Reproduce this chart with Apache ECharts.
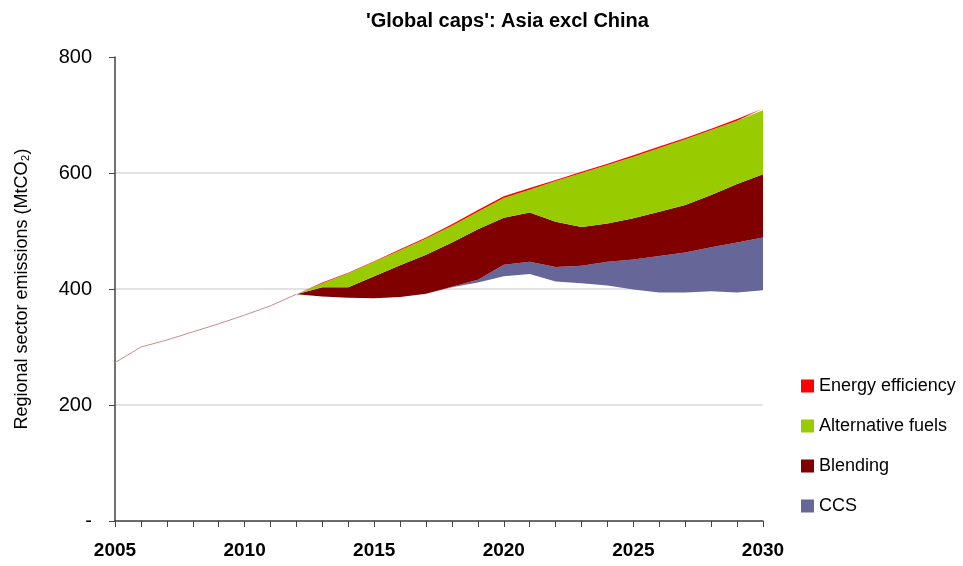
<!DOCTYPE html>
<html>
<head>
<meta charset="utf-8">
<script src="https://cdn.jsdelivr.net/npm/echarts@6/dist/echarts.min.js"></script>
<style>
html,body{margin:0;padding:0;background:#fff;}
#c{width:963px;height:566px;}
</style>
</head>
<body>
<div id="c"></div>
<script>
const years = ['2005','2006','2007','2008','2009','2010','2011','2012','2013','2014','2015','2016','2017','2018','2019','2020','2021','2022','2023','2024','2025','2026','2027','2028','2029','2030'];
// remaining emissions (lower envelope, not filled)
const remaining = [273,300,312,326,340,355,371,391,387,385,384,386,392,403,411,422,426,413,410,406,399,394,394,396,394,398];
const ccs       = [0,0,0,0,0,0,0,0,0,0,0,0,0,1,5,20,21,25,30,41,52,63,69,76,86,91];
const blending  = [0,0,0,0,0,0,0,0,16,18,38,55,67,76,87,81,85,78,67,66,71,76,82,90,101,109];
const altFuels  = [0,0,0,0,0,0,0,0,7,24,25,26,28,29,30,34,39,70,93,101,106,110,113,112,109,110];
const energyEff = [0,0,0,0,0,0,0,0,1,1,1,1.5,2,2.5,3,3,3,2,2,2,2.5,2.5,2.5,2.5,3,3];
const lastHistoricYear = '2012';
const yTicks = [0,200,400,600,800];

const histIdx = years.indexOf(lastHistoricYear);
const history = remaining.map((v,i)=> i<=histIdx ? v : null);

const font = 'Liberation Sans, Arial, sans-serif';
function area(name, data, color){
  return {name, type:'line', stack:'total', data, symbol:'none', smooth:false,
    lineStyle:{width:0}, areaStyle:{color, opacity:1}, itemStyle:{color}, z:2};
}
const chart = echarts.init(document.getElementById('c'));
chart.setOption({
  animation:false,
  title:{text:"'Global caps': Asia excl China", left:361, top:6,
    textStyle:{fontFamily:font, fontSize:20, fontWeight:'bold', color:'#000'}},
  grid:{left:115, right:200, top:57, bottom:45, containLabel:false},
  legend:{orient:'vertical', left:796, top:372, itemWidth:13, itemHeight:13, itemGap:22,
    data:['Energy efficiency','Alternative fuels','Blending','CCS'],
    icon:'rect',
    textStyle:{fontFamily:font, fontSize:18, color:'#000'}},
  xAxis:{type:'category', data:years, boundaryGap:false,
    axisLine:{lineStyle:{color:'#444', width:1.5}},
    axisTick:{show:true, interval:0, length:6, lineStyle:{color:'#444'}},
    axisLabel:{interval:4, margin:20, fontFamily:font, fontSize:19, fontWeight:'bold', color:'#000'},
    splitLine:{show:false}},
  yAxis:{type:'value', min:yTicks[0], max:yTicks[yTicks.length-1], interval:200,
    name:'Regional sector emissions (MtCO\u2082)', nameLocation:'middle', nameGap:84,
    nameTextStyle:{fontFamily:font, fontSize:18, color:'#000'},
    axisLine:{show:true, lineStyle:{color:'#444', width:1.5}},
    axisTick:{show:true, inside:false, length:6, lineStyle:{color:'#444'}},
    axisLabel:{margin:23, fontFamily:font, fontSize:20, color:'#000',
      formatter:v=> v===0 ? '-' : String(v)},
    splitLine:{show:true, lineStyle:{color:['#d9d9d9','#d9d9d9','#d9d9d9','#d9d9d9','rgba(0,0,0,0)'], width:1.5}}},
  series:[
    {name:'Remaining', type:'line', stack:'total', data:remaining, symbol:'none',
      lineStyle:{width:0, opacity:0}, areaStyle:{opacity:0}, silent:true},
    area('CCS', ccs, '#666699'),
    area('Blending', blending, '#800000'),
    area('Alternative fuels', altFuels, '#99cc00'),
    area('Energy efficiency', energyEff, '#ff0000'),
    {name:'History', type:'line', data:history, symbol:'none',
      lineStyle:{width:1, color:'#c98a8a', type:'solid'}, z:3, silent:true}
  ]
});
</script>
</body>
</html>
